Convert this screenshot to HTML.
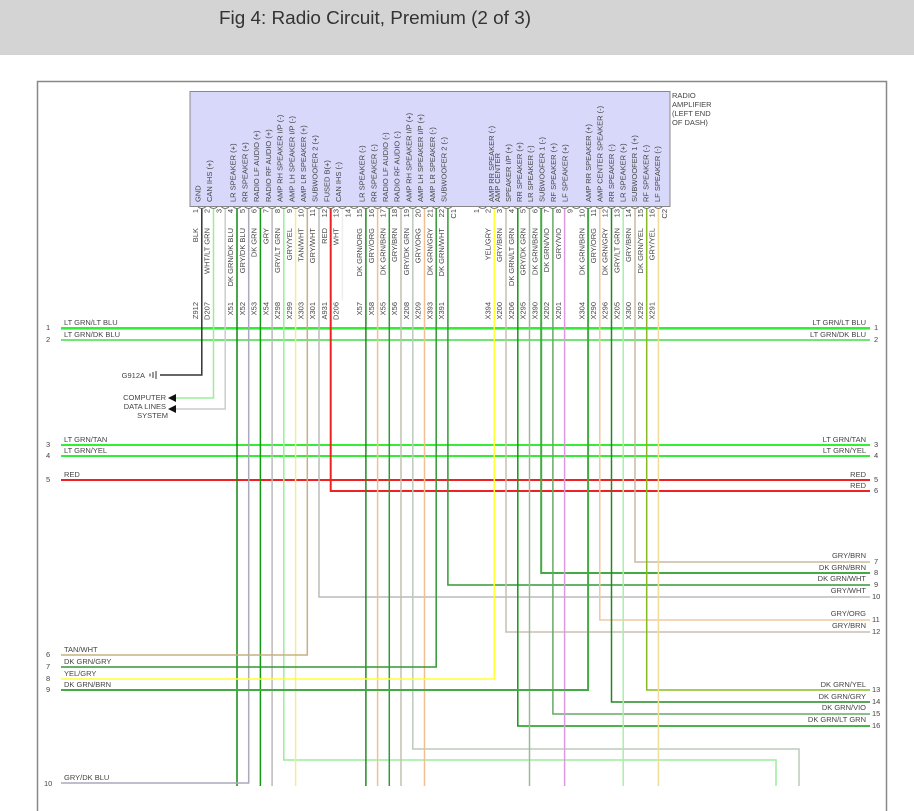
<!DOCTYPE html>
<html><head><meta charset="utf-8"><style>
html,body{margin:0;padding:0;background:#fff;width:914px;height:811px;overflow:hidden}
.t{font-family:"Liberation Sans",sans-serif;font-size:7.5px;fill:#444}
</style></head><body>
<svg width="914" height="811" viewBox="0 0 914 811" xmlns="http://www.w3.org/2000/svg">
<rect x="0" y="0" width="914" height="55" fill="#d4d4d4"/>
<text x="219" y="24" font-family="Liberation Sans, sans-serif" font-size="18.5" textLength="312" lengthAdjust="spacingAndGlyphs" fill="#333">Fig 4: Radio Circuit, Premium (2 of 3)</text>
<rect x="37.5" y="81.5" width="849" height="740" fill="none" stroke="#888" stroke-width="1.5"/>
<rect x="190" y="91.5" width="480" height="115" fill="#d8d8fa" stroke="#888" stroke-width="1"/>
<g class="t"><text x="672" y="98">RADIO</text><text x="672" y="107">AMPLIFIER</text><text x="672" y="116">(LEFT END</text><text x="672" y="125">OF DASH)</text></g>

<g fill="none" stroke-width="1.5">
<line x1="61" y1="328" x2="870" y2="328" stroke="#33ee33" stroke-width="2"/>
<line x1="61" y1="329.5" x2="870" y2="329.5" stroke="#66eeee" stroke-width="1"/>
<line x1="61" y1="340" x2="870" y2="340" stroke="#44dd44" stroke-width="1.5"/>
<line x1="61" y1="445" x2="870" y2="445" stroke="#33ee33" stroke-width="2"/>
<line x1="61" y1="456" x2="870" y2="456" stroke="#33ee33" stroke-width="2"/>
<line x1="61" y1="480" x2="870" y2="480" stroke="#ee2222" stroke-width="2"/>
<polyline points="201.8,208 201.8,375 160,375" stroke="#333"/>
<polyline points="213.5,208 213.5,398 176,398" stroke="#99ee99"/>
<polyline points="225.2,208 225.2,409 176,409" stroke="#ccc"/>
<polyline points="237,208 237,786" stroke="#118811"/>
<polyline points="248.7,208 248.7,783 61,783" stroke="#aab"/>
<polyline points="260.4,208 260.4,786" stroke="#119911"/>
<polyline points="272.1,208 272.1,786" stroke="#bbb"/>
<polyline points="283.8,208 283.8,760 776,760 776,786" stroke="#99ee99"/>
<polyline points="295.6,208 295.6,786" stroke="#eeee99"/>
<polyline points="307.3,208 307.3,655 61,655" stroke="#c8b080"/>
<polyline points="319,208 319,597 870,597" stroke="#bbb"/>
<polyline points="330.7,208 330.7,491 870,491" stroke="#ee2222" stroke-width="2"/>
<polyline points="342.4,208 342.4,300" stroke="#eee"/>
<polyline points="365.9,208 365.9,786" stroke="#228822"/>
<polyline points="377.6,208 377.6,786" stroke="#f0c090"/>
<polyline points="389.3,208 389.3,786" stroke="#339933"/>
<polyline points="401,208 401,786" stroke="#c0c0b0"/>
<polyline points="412.8,208 412.8,749 799,749 799,786" stroke="#bbccbb"/>
<polyline points="424.5,208 424.5,786" stroke="#f0c090"/>
<polyline points="436.2,208 436.2,667 61,667" stroke="#339933"/>
<polyline points="447.9,208 447.9,585 870,585" stroke="#339933"/>
<polyline points="494.3,208 494.3,679 61,679" stroke="#ffff33"/>
<polyline points="506,208 506,632 870,632" stroke="#c8c0b0"/>
<polyline points="517.8,208 517.8,726 870,726" stroke="#119911"/>
<polyline points="529.5,208 529.5,786" stroke="#99bb99"/>
<polyline points="541.2,208 541.2,573 870,573" stroke="#44aa44" stroke-width="2"/>
<polyline points="552.9,208 552.9,714 870,714" stroke="#66aa66"/>
<polyline points="564.6,208 564.6,786" stroke="#dd99dd"/>
<polyline points="588.1,208 588.1,690 61,690" stroke="#44aa44" stroke-width="2"/>
<polyline points="599.8,208 599.8,620 870,620" stroke="#f0c8a0"/>
<polyline points="611.5,208 611.5,702 870,702" stroke="#228822"/>
<polyline points="623.2,208 623.2,786" stroke="#aaeeaa"/>
<polyline points="635,208 635,562 870,562" stroke="#c8b8a0"/>
<polyline points="646.7,208 646.7,690 870,690" stroke="#88bb22"/>
<polyline points="658.4,208 658.4,786" stroke="#eedd99"/>
</g>
<g stroke="#333" stroke-width="1" fill="none"><line x1="156" y1="371" x2="156" y2="379"/><line x1="153" y1="372" x2="153" y2="378"/><line x1="150" y1="373.5" x2="150" y2="376.5"/></g>
<polygon points="168,398 176,394 176,402" fill="#111"/>
<polygon points="168,409 176,405 176,413" fill="#111"/>
<g class="t">
<text x="145" y="378" text-anchor="end">G912A</text>
<text x="166" y="400" text-anchor="end">COMPUTER</text>
<text x="166" y="409" text-anchor="end">DATA LINES</text>
<text x="168" y="418" text-anchor="end">SYSTEM</text>
<text x="64" y="325">LT GRN/LT BLU</text><text x="46" y="330">1</text>
<text x="64" y="337">LT GRN/DK BLU</text><text x="46" y="342">2</text>
<text x="64" y="442">LT GRN/TAN</text><text x="46" y="447">3</text>
<text x="64" y="453">LT GRN/YEL</text><text x="46" y="458">4</text>
<text x="64" y="477">RED</text><text x="46" y="482">5</text>
<text x="64" y="652">TAN/WHT</text><text x="46" y="657">6</text>
<text x="64" y="664">DK GRN/GRY</text><text x="46" y="669">7</text>
<text x="64" y="676">YEL/GRY</text><text x="46" y="681">8</text>
<text x="64" y="687">DK GRN/BRN</text><text x="46" y="692">9</text>
<text x="64" y="780">GRY/DK BLU</text><text x="44" y="786">10</text>
<g text-anchor="end">
<text x="866" y="325">LT GRN/LT BLU</text><text x="866" y="337">LT GRN/DK BLU</text>
<text x="866" y="442">LT GRN/TAN</text><text x="866" y="453">LT GRN/YEL</text>
<text x="866" y="477">RED</text><text x="866" y="488">RED</text>
<text x="866" y="558">GRY/BRN</text><text x="866" y="570">DK GRN/BRN</text>
<text x="866" y="581">DK GRN/WHT</text><text x="866" y="593">GRY/WHT</text>
<text x="866" y="616">GRY/ORG</text><text x="866" y="628">GRY/BRN</text>
<text x="866" y="687">DK GRN/YEL</text><text x="866" y="699">DK GRN/GRY</text>
<text x="866" y="710">DK GRN/VIO</text><text x="866" y="722">DK GRN/LT GRN</text>
</g>
<text x="874" y="330">1</text><text x="874" y="342">2</text><text x="874" y="447">3</text><text x="874" y="458">4</text>
<text x="874" y="482">5</text><text x="874" y="493">6</text><text x="874" y="564">7</text><text x="874" y="575">8</text>
<text x="874" y="587">9</text><text x="872" y="599">10</text><text x="872" y="622">11</text><text x="872" y="634">12</text>
<text x="872" y="692">13</text><text x="872" y="704">14</text><text x="872" y="716">15</text><text x="872" y="728">16</text>
</g>

<g class="t">
<g text-anchor="start">
<text transform="translate(200.5,202) rotate(-90)">GND</text>
<text transform="translate(212,202) rotate(-90)">CAN IHS (+)</text>
<text transform="translate(235.7,202) rotate(-90)">LR SPEAKER (+)</text>
<text transform="translate(247.4,202) rotate(-90)">RR SPEAKER (+)</text>
<text transform="translate(259.1,202) rotate(-90)">RADIO LF AUDIO (+)</text>
<text transform="translate(270.8,202) rotate(-90)">RADIO RF AUDIO (+)</text>
<text transform="translate(282.5,202) rotate(-90)">AMP RH SPEAKER I/P (-)</text>
<text transform="translate(294.3,202) rotate(-90)">AMP LH SPEAKER I/P (-)</text>
<text transform="translate(306,202) rotate(-90)">AMP LR SPEAKER (+)</text>
<text transform="translate(317.7,202) rotate(-90)">SUBWOOFER 2 (+)</text>
<text transform="translate(329.4,202) rotate(-90)">FUSED B(+)</text>
<text transform="translate(341.1,202) rotate(-90)">CAN IHS (-)</text>
<text transform="translate(364.6,202) rotate(-90)">LR SPEAKER (-)</text>
<text transform="translate(376.3,202) rotate(-90)">RR SPEAKER (-)</text>
<text transform="translate(388,202) rotate(-90)">RADIO LF AUDIO (-)</text>
<text transform="translate(399.7,202) rotate(-90)">RADIO RF AUDIO (-)</text>
<text transform="translate(411.5,202) rotate(-90)">AMP RH SPEAKER I/P (+)</text>
<text transform="translate(423.2,202) rotate(-90)">AMP LH SPEAKER I/P (+)</text>
<text transform="translate(434.9,202) rotate(-90)">AMP LR SPEAKER (-)</text>
<text transform="translate(446.6,202) rotate(-90)">SUBWOOFER 2 (-)</text>
<text transform="translate(494,202) rotate(-90)">AMP RR SPEAKER (-)</text>
<text transform="translate(500,202) rotate(-90)">AMP CENTER</text>
<text transform="translate(511,202) rotate(-90)">SPEAKER I/P (+)</text>
<text transform="translate(522,202) rotate(-90)">RR SPEAKER (+)</text>
<text transform="translate(533,202) rotate(-90)">LR SPEAKER (-)</text>
<text transform="translate(544.5,202) rotate(-90)">SUBWOOFER 1 (-)</text>
<text transform="translate(556,202) rotate(-90)">RF SPEAKER (+)</text>
<text transform="translate(567.5,202) rotate(-90)">LF SPEAKER (+)</text>
<text transform="translate(591,202) rotate(-90)">AMP RR SPEAKER (+)</text>
<text transform="translate(602.5,202) rotate(-90)">AMP CENTER SPEAKER (-)</text>
<text transform="translate(614,202) rotate(-90)">RR SPEAKER (-)</text>
<text transform="translate(625.5,202) rotate(-90)">LR SPEAKER (+)</text>
<text transform="translate(637,202) rotate(-90)">SUBWOOFER 1 (+)</text>
<text transform="translate(648.5,202) rotate(-90)">RF SPEAKER (-)</text>
<text transform="translate(660,202) rotate(-90)">LF SPEAKER (-)</text>
</g>
<g text-anchor="end">
<text transform="translate(198,209) rotate(-90)">1</text><text transform="translate(209.7,209) rotate(-90)">2</text><text transform="translate(221.4,209) rotate(-90)">3</text>
<text transform="translate(233.2,209) rotate(-90)">4</text><text transform="translate(244.9,209) rotate(-90)">5</text><text transform="translate(256.6,209) rotate(-90)">6</text>
<text transform="translate(268.3,209) rotate(-90)">7</text><text transform="translate(280,209) rotate(-90)">8</text><text transform="translate(291.8,209) rotate(-90)">9</text>
<text transform="translate(303.5,209) rotate(-90)">10</text><text transform="translate(315.2,209) rotate(-90)">11</text><text transform="translate(326.9,209) rotate(-90)">12</text>
<text transform="translate(338.6,209) rotate(-90)">13</text><text transform="translate(350.4,209) rotate(-90)">14</text><text transform="translate(362.1,209) rotate(-90)">15</text>
<text transform="translate(373.8,209) rotate(-90)">16</text><text transform="translate(385.5,209) rotate(-90)">17</text><text transform="translate(397.2,209) rotate(-90)">18</text>
<text transform="translate(409,209) rotate(-90)">19</text><text transform="translate(420.7,209) rotate(-90)">20</text><text transform="translate(432.4,209) rotate(-90)">21</text>
<text transform="translate(444.1,209) rotate(-90)">22</text><text transform="translate(456,209) rotate(-90)">C1</text>
<text transform="translate(478.8,209) rotate(-90)">1</text><text transform="translate(490.5,209) rotate(-90)">2</text><text transform="translate(502.2,209) rotate(-90)">3</text>
<text transform="translate(514,209) rotate(-90)">4</text><text transform="translate(525.7,209) rotate(-90)">5</text><text transform="translate(537.4,209) rotate(-90)">6</text>
<text transform="translate(549.1,209) rotate(-90)">7</text><text transform="translate(560.8,209) rotate(-90)">8</text><text transform="translate(572.6,209) rotate(-90)">9</text>
<text transform="translate(584.3,209) rotate(-90)">10</text><text transform="translate(596,209) rotate(-90)">11</text><text transform="translate(607.7,209) rotate(-90)">12</text>
<text transform="translate(619.4,209) rotate(-90)">13</text><text transform="translate(631.2,209) rotate(-90)">14</text><text transform="translate(642.9,209) rotate(-90)">15</text>
<text transform="translate(654.6,209) rotate(-90)">16</text><text transform="translate(667,209) rotate(-90)">C2</text>
<text transform="translate(198,228) rotate(-90)">BLK</text>
<text transform="translate(209.7,228) rotate(-90)">WHT/LT GRN</text>
<text transform="translate(233.2,228) rotate(-90)">DK GRN/DK BLU</text>
<text transform="translate(244.9,228) rotate(-90)">GRY/DK BLU</text>
<text transform="translate(256.6,228) rotate(-90)">DK GRN</text>
<text transform="translate(268.3,228) rotate(-90)">GRY</text>
<text transform="translate(280,228) rotate(-90)">GRY/LT GRN</text>
<text transform="translate(291.8,228) rotate(-90)">GRY/YEL</text>
<text transform="translate(303.5,228) rotate(-90)">TAN/WHT</text>
<text transform="translate(315.2,228) rotate(-90)">GRY/WHT</text>
<text transform="translate(326.9,228) rotate(-90)">RED</text>
<text transform="translate(338.6,228) rotate(-90)">WHT</text>
<text transform="translate(362.1,228) rotate(-90)">DK GRN/ORG</text>
<text transform="translate(373.8,228) rotate(-90)">GRY/ORG</text>
<text transform="translate(385.5,228) rotate(-90)">DK GRN/BRN</text>
<text transform="translate(397.2,228) rotate(-90)">GRY/BRN</text>
<text transform="translate(409,228) rotate(-90)">GRY/DK GRN</text>
<text transform="translate(420.7,228) rotate(-90)">GRY/ORG</text>
<text transform="translate(432.4,228) rotate(-90)">DK GRN/GRY</text>
<text transform="translate(444.1,228) rotate(-90)">DK GRN/WHT</text>
<text transform="translate(490.5,228) rotate(-90)">YEL/GRY</text>
<text transform="translate(502.2,228) rotate(-90)">GRY/BRN</text>
<text transform="translate(514,228) rotate(-90)">DK GRN/LT GRN</text>
<text transform="translate(525.7,228) rotate(-90)">GRY/DK GRN</text>
<text transform="translate(537.4,228) rotate(-90)">DK GRN/BRN</text>
<text transform="translate(549.1,228) rotate(-90)">DK GRN/VIO</text>
<text transform="translate(560.8,228) rotate(-90)">GRY/VIO</text>
<text transform="translate(584.3,228) rotate(-90)">DK GRN/BRN</text>
<text transform="translate(596,228) rotate(-90)">GRY/ORG</text>
<text transform="translate(607.7,228) rotate(-90)">DK GRN/GRY</text>
<text transform="translate(619.4,228) rotate(-90)">GRY/LT GRN</text>
<text transform="translate(631.2,228) rotate(-90)">GRY/BRN</text>
<text transform="translate(642.9,228) rotate(-90)">DK GRN/YEL</text>
<text transform="translate(654.6,228) rotate(-90)">GRY/YEL</text>
<text transform="translate(198,302) rotate(-90)">Z912</text>
<text transform="translate(209.7,302) rotate(-90)">D207</text>
<text transform="translate(233.2,302) rotate(-90)">X51</text>
<text transform="translate(244.9,302) rotate(-90)">X52</text>
<text transform="translate(256.6,302) rotate(-90)">X53</text>
<text transform="translate(268.3,302) rotate(-90)">X54</text>
<text transform="translate(280,302) rotate(-90)">X298</text>
<text transform="translate(291.8,302) rotate(-90)">X299</text>
<text transform="translate(303.5,302) rotate(-90)">X303</text>
<text transform="translate(315.2,302) rotate(-90)">X301</text>
<text transform="translate(326.9,302) rotate(-90)">A931</text>
<text transform="translate(338.6,302) rotate(-90)">D206</text>
<text transform="translate(362.1,302) rotate(-90)">X57</text>
<text transform="translate(373.8,302) rotate(-90)">X58</text>
<text transform="translate(385.5,302) rotate(-90)">X55</text>
<text transform="translate(397.2,302) rotate(-90)">X56</text>
<text transform="translate(409,302) rotate(-90)">X208</text>
<text transform="translate(420.7,302) rotate(-90)">X209</text>
<text transform="translate(432.4,302) rotate(-90)">X393</text>
<text transform="translate(444.1,302) rotate(-90)">X391</text>
<text transform="translate(490.5,302) rotate(-90)">X394</text>
<text transform="translate(502.2,302) rotate(-90)">X200</text>
<text transform="translate(514,302) rotate(-90)">X206</text>
<text transform="translate(525.7,302) rotate(-90)">X295</text>
<text transform="translate(537.4,302) rotate(-90)">X390</text>
<text transform="translate(549.1,302) rotate(-90)">X202</text>
<text transform="translate(560.8,302) rotate(-90)">X201</text>
<text transform="translate(584.3,302) rotate(-90)">X304</text>
<text transform="translate(596,302) rotate(-90)">X290</text>
<text transform="translate(607.7,302) rotate(-90)">X296</text>
<text transform="translate(619.4,302) rotate(-90)">X205</text>
<text transform="translate(631.2,302) rotate(-90)">X300</text>
<text transform="translate(642.9,302) rotate(-90)">X292</text>
<text transform="translate(654.6,302) rotate(-90)">X291</text>
</g>
</g>
<g stroke="#666" stroke-width="0.8" fill="none">
<path d="M198,207 q3.8,3 7.6,0"/><path d="M209.7,207 q3.8,3 7.6,0"/><path d="M221.4,207 q3.8,3 7.6,0"/><path d="M233.2,207 q3.8,3 7.6,0"/><path d="M244.9,207 q3.8,3 7.6,0"/><path d="M256.6,207 q3.8,3 7.6,0"/><path d="M268.3,207 q3.8,3 7.6,0"/><path d="M280,207 q3.8,3 7.6,0"/><path d="M291.8,207 q3.8,3 7.6,0"/><path d="M303.5,207 q3.8,3 7.6,0"/><path d="M315.2,207 q3.8,3 7.6,0"/><path d="M326.9,207 q3.8,3 7.6,0"/><path d="M338.6,207 q3.8,3 7.6,0"/><path d="M350.4,207 q3.8,3 7.6,0"/><path d="M362.1,207 q3.8,3 7.6,0"/><path d="M373.8,207 q3.8,3 7.6,0"/><path d="M385.5,207 q3.8,3 7.6,0"/><path d="M397.2,207 q3.8,3 7.6,0"/><path d="M409,207 q3.8,3 7.6,0"/><path d="M420.7,207 q3.8,3 7.6,0"/><path d="M432.4,207 q3.8,3 7.6,0"/><path d="M444.1,207 q3.8,3 7.6,0"/>
<path d="M478.8,207 q3.8,3 7.6,0"/><path d="M490.5,207 q3.8,3 7.6,0"/><path d="M502.2,207 q3.8,3 7.6,0"/><path d="M514,207 q3.8,3 7.6,0"/><path d="M525.7,207 q3.8,3 7.6,0"/><path d="M537.4,207 q3.8,3 7.6,0"/><path d="M549.1,207 q3.8,3 7.6,0"/><path d="M560.8,207 q3.8,3 7.6,0"/><path d="M572.6,207 q3.8,3 7.6,0"/><path d="M584.3,207 q3.8,3 7.6,0"/><path d="M596,207 q3.8,3 7.6,0"/><path d="M607.7,207 q3.8,3 7.6,0"/><path d="M619.4,207 q3.8,3 7.6,0"/><path d="M631.2,207 q3.8,3 7.6,0"/><path d="M642.9,207 q3.8,3 7.6,0"/><path d="M654.6,207 q3.8,3 7.6,0"/>
</g>
</svg>
</body></html>
